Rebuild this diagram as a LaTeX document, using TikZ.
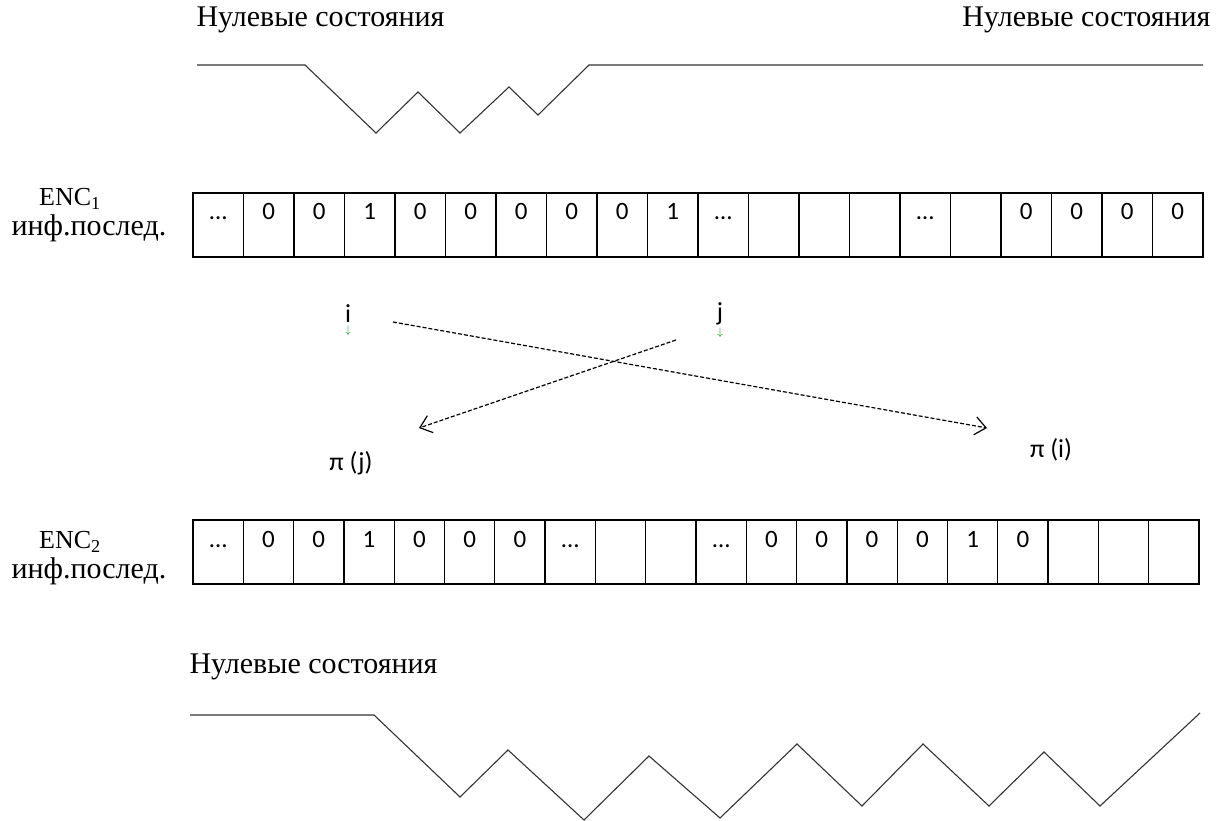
\documentclass[tikz,border=0pt]{standalone}
\usepackage{fontspec}
\setmainfont{Liberation Serif}
\newfontfamily\calfont{Carlito}
\usetikzlibrary{arrows.meta, positioning}

\begin{document}
\begin{tikzpicture}[x=1pt, y=-1pt, node distance=0pt,
    >={Straight Barb[length=11pt, width=18pt, line width=1.2pt]},
    cell/.style={draw, line width=1.3pt, inner sep=0pt, outer sep=0pt,
                 minimum width=50.5pt, text height=27pt, text depth=37pt,
                 font=\calfont\fontsize{25}{25}\selectfont},
    cellb/.style={cell, minimum width=50.3pt},
    seqlbl/.style={font=\fontsize{30}{30}\selectfont, inner sep=0pt},
    enclbl/.style={font=\fontsize{26}{26}\selectfont, inner sep=0pt},
    zerolbl/.style={font=\fontsize{30}{30}\selectfont, anchor=west},
    idx/.style={font=\calfont\fontsize{26}{26}\selectfont, inner sep=0pt},
    perm/.style={draw, dash pattern=on 4pt off 2pt, line width=1.2pt, ->},
    wave/.style={draw=black!80, line width=1.1pt}]
  \useasboundingbox (0,0) rectangle (1216,821);

  % zero states, upper encoder
  \node[zerolbl] (zl1) at (193,20) {Нулевые состояния};
  \node[zerolbl, anchor=east] (zr1) at (1214,20) {Нулевые состояния};
  \draw[wave] (197,65) -- (305,65) -- (376,133) -- (418,92) -- (460,133)
    -- (509,87) -- (538,115) -- (589,65) -- (1203,65);

  % ENC1 sequence
  \node[cell, anchor=north west] (t1) at (193,193) {\dots};
  \node[cell, right=of t1] (t2) {0};
  \node[cell, right=of t2] (t3) {0};
  \node[cell, right=of t3] (t4) {1};
  \node[cell, right=of t4] (t5) {0};
  \node[cell, right=of t5] (t6) {0};
  \node[cell, right=of t6] (t7) {0};
  \node[cell, right=of t7] (t8) {0};
  \node[cell, right=of t8] (t9) {0};
  \node[cell, right=of t9] (t10) {1};
  \node[cell, right=of t10] (t11) {\dots};
  \node[cell, right=of t11] (t12) {};
  \node[cell, right=of t12] (t13) {};
  \node[cell, right=of t13] (t14) {};
  \node[cell, right=of t14] (t15) {\dots};
  \node[cell, right=of t15] (t16) {};
  \node[cell, right=of t16] (t17) {0};
  \node[cell, right=of t17] (t18) {0};
  \node[cell, right=of t18] (t19) {0};
  \node[cell, right=of t19] (t20) {0};

  \node[enclbl] (enc1) at (70,199) {ENC\textsubscript{1}};
  \node[seqlbl] (inf1) at (89,228) {инф.послед.};

  % interleaver
  \node[idx] (iidx) at (348,320)
    {\shortstack{i\\[0pt]{\color{green!55!black}\fontsize{11}{11}\selectfont$\downarrow$}}};
  \node[idx] (jidx) at (720,320)
    {\shortstack{j\\[0pt]{\color{green!55!black}\fontsize{11}{11}\selectfont$\downarrow$}}};
  \node[idx] (pij) at (351,463) {π (j)};
  \node[idx] (pii) at (1051,450) {π (i)};
  \coordinate (istart) at (393,322);
  \coordinate (iend) at (987,428);
  \coordinate (jstart) at (676,340);
  \coordinate (jend) at (419,428);
  \draw[perm] (istart) -- (iend);
  \draw[perm] (jstart) -- (jend);

  % ENC2 sequence
  \node[cellb, anchor=north west] (b1) at (193,520) {\dots};
  \node[cellb, right=of b1] (b2) {0};
  \node[cellb, right=of b2] (b3) {0};
  \node[cellb, right=of b3] (b4) {1};
  \node[cellb, right=of b4] (b5) {0};
  \node[cellb, right=of b5] (b6) {0};
  \node[cellb, right=of b6] (b7) {0};
  \node[cellb, right=of b7] (b8) {\dots};
  \node[cellb, right=of b8] (b9) {};
  \node[cellb, right=of b9] (b10) {};
  \node[cellb, right=of b10] (b11) {\dots};
  \node[cellb, right=of b11] (b12) {0};
  \node[cellb, right=of b12] (b13) {0};
  \node[cellb, right=of b13] (b14) {0};
  \node[cellb, right=of b14] (b15) {0};
  \node[cellb, right=of b15] (b16) {1};
  \node[cellb, right=of b16] (b17) {0};
  \node[cellb, right=of b17] (b18) {};
  \node[cellb, right=of b18] (b19) {};
  \node[cellb, right=of b19] (b20) {};

  \node[enclbl] (enc2) at (70,542) {ENC\textsubscript{2}};
  \node[seqlbl] (inf2) at (89,571) {инф.послед.};

  % zero states, lower encoder
  \node[zerolbl] (zl2) at (186,667) {Нулевые состояния};
  \draw[wave] (190,715) -- (374,715) -- (460,797) -- (508,750) -- (584,820)
    -- (649,756) -- (720,818) -- (797,744) -- (862,806) -- (923,744)
    -- (989,806) -- (1044,752) -- (1100,806) -- (1200,713);
\end{tikzpicture}
\end{document}
